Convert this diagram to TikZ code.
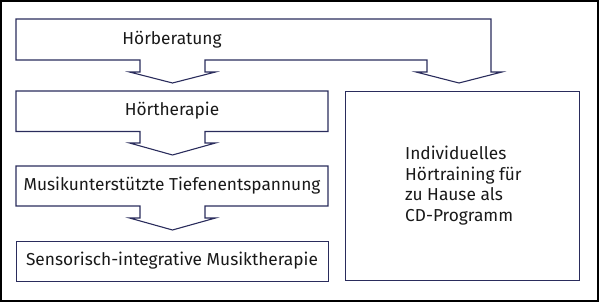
\documentclass[tikz,border=0pt]{standalone}
\usepackage{fontspec}
\setmainfont{Fira Sans}
\definecolor{lineblue}{RGB}{42,44,92}
\begin{document}
\begin{tikzpicture}[x=1pt,y=-1pt,
  outline/.style={draw=lineblue,line width=1.1pt,line join=miter},
  plainbox/.style={draw=lineblue,line width=0.75pt,line join=miter},
  label/.style={font=\fontsize{17.3}{20.8}\selectfont,text=black!90,inner sep=0pt},
  frame/.style={draw=black,line width=1.8pt}]
\useasboundingbox (0,0) rectangle (600,304);
\draw[frame] (1,1) rectangle (598,301);
% top shape: Hoerberatung with two arrows
\draw[outline] (16,19) -- (491,19) -- (491,72) -- (502,72) -- (459,83) -- (416,72) -- (427,72) -- (427,60)
  -- (205,60) -- (205,72) -- (215.5,72) -- (172.5,83) -- (129.5,72) -- (140,72) -- (140,60) -- (16,60) -- cycle;
% Hoertherapie
\draw[outline] (16,91) -- (328,91) -- (328,131.5) -- (205,131.5) -- (205,143) -- (215.5,143) -- (172.5,155)
  -- (129.5,143) -- (140,143) -- (140,131.5) -- (16,131.5) -- cycle;
% Musikunterstuetzte
\draw[outline] (16,166) -- (328,166) -- (328,206) -- (205,206) -- (205,218) -- (215.5,218) -- (172.5,230)
  -- (129.5,218) -- (140,218) -- (140,206) -- (16,206) -- cycle;
% Sensorisch
\draw[plainbox] (16,241) rectangle (328,281);
% right box
\draw[plainbox] (345,91) rectangle (579,280);
\node[label] (t1) at (172,39.5) {Hörberatung};
\node[label] (t2) at (172,111) {Hörtherapie};
\node[label] (t3) at (172,186) {Musikunterstützte Tiefenentspannung};
\node[label] (t4) at (172,261) {Sensorisch-integrative Musiktherapie};
\node[label,anchor=west,align=left] (t5) at (405,185.5) {Individuelles\\Hörtraining für\\zu Hause als\\CD-Programm};
\end{tikzpicture}
\end{document}
